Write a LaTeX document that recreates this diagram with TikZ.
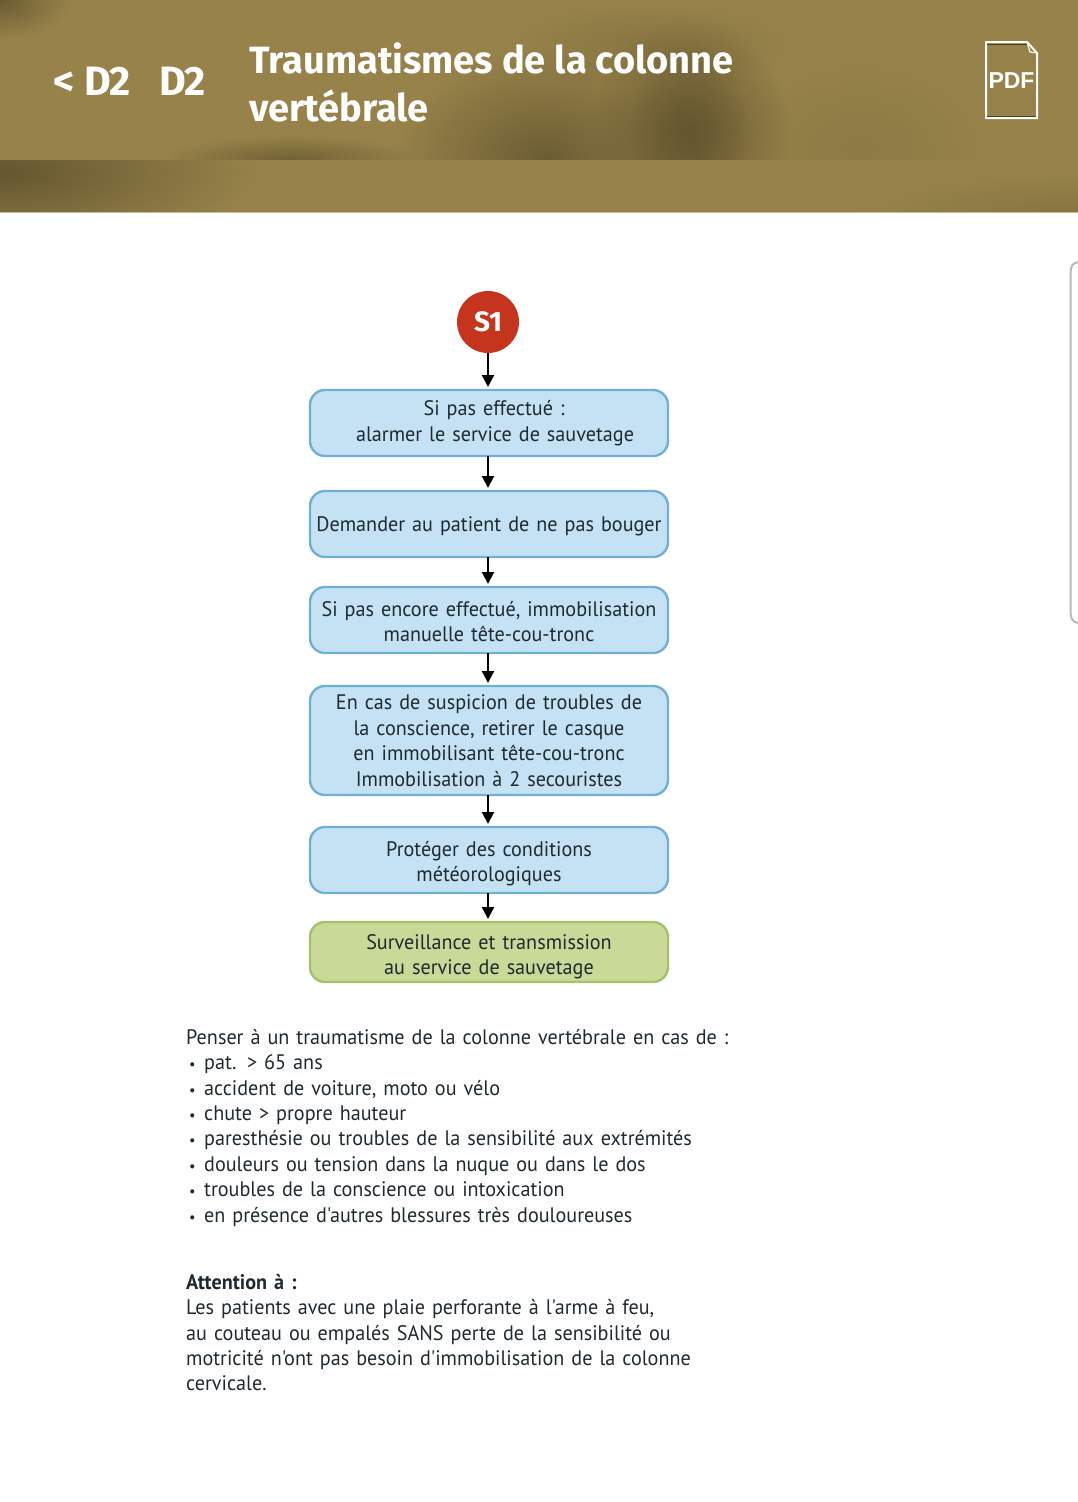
\documentclass[tikz,border=0pt]{standalone}
\usepackage{fontspec}
\setmainfont{PT Sans}[Ligatures=TeXOff,WordSpace=0.72,FakeStretch=0.96]
\newfontfamily\titlefont{Fira Sans}
\newfontfamily\pdffont{Liberation Sans}
\usetikzlibrary{arrows.meta,fadings,calc}
\definecolor{bandbase}{HTML}{97834A}
\definecolor{banddark}{HTML}{655630}
\definecolor{boxfill}{HTML}{C5E2F5}
\definecolor{boxline}{HTML}{6FB0D4}
\definecolor{endfill}{HTML}{C8D998}
\definecolor{endline}{HTML}{A5C26A}
\definecolor{inktext}{HTML}{1F2A30}
\definecolor{redstart}{HTML}{C5341C}
\tikzfading[name=softblob,inner color=transparent!0,outer color=transparent!100]
\newcommand\downby[1]{\rule{0pt}{#1}}
\newcommand\notebullet{\makebox[18pt][l]{\hspace{3pt}\fontsize{15}{15}\selectfont •}}
\tikzset{
  x=1pt,y=-1pt,
  stepbox/.style={draw=boxline,fill=boxfill,line width=2.4pt,rounded corners=15pt,
    minimum width=358pt,outer sep=0pt,inner xsep=1pt,inner ysep=0pt,text width=354pt,align=center,
    text=inktext,font=\fontsize{21}{25.5}\selectfont},
  endbox/.style={stepbox,draw=endline,fill=endfill},
  flow/.style={line width=2.2pt,black,-{Triangle[length=12pt,width=12pt]},shorten >=3pt},
  para/.style={anchor=north west,inner sep=0pt,text width=600pt,align=left,text=inktext,
    font=\fontsize{21}{25.4}\selectfont},
  blob/.style={fill=banddark,path fading=softblob},
  header/.style={text=white,anchor=west,inner sep=0pt,font=\titlefont\fontsize{38}{48}\selectfont\bfseries},
  crumbtext/.style={header,font=\titlefont\fontsize{41}{46}\selectfont\bfseries},
}
\begin{document}
\begin{tikzpicture}
\useasboundingbox (0,0) rectangle (1078,1502);
% header bands
\begin{scope}
\clip (0,0) rectangle (1078,160);
\fill[bandbase] (0,0) rectangle (1078,160);
\fill[blob,opacity=.9] (-70,-40) rectangle (70,40);
\fill[blob,opacity=.3] (500,0) rectangle (800,90);
\fill[blob,opacity=.95] (590,20) rectangle (790,240);
\fill[blob,opacity=.65] (630,40) rectangle (750,240);
\fill[blob,opacity=.85] (390,50) rectangle (700,270);
\fill[blob,opacity=.75] (160,135) rectangle (420,185);
\fill[blob,opacity=.2] (720,50) rectangle (1000,250);
\end{scope}
\begin{scope}
\clip (0,160) rectangle (1078,212);
\fill[bandbase] (0,160) rectangle (1078,212);
\fill[blob,opacity=1] (-260,90) rectangle (260,255);
\fill[blob,opacity=.35] (850,170) rectangle (1300,270);
\end{scope}
\draw[line width=1pt,color=bandbase!55!white] (0,212.5) -- (1078,212.5);
% header texts
\node[crumbtext] (back) at (53,81) {< D2};
\node[crumbtext] (crumb) at (159,81) {D2};
\node[header] (title1) at (249,58) {Traumatismes de la colonne};
\node[header] (title2) at (249,106) {vertébrale};
% pdf icon
\draw[white,line width=2pt,line join=miter] (986,42) -- (1027,42) -- (1037,53) -- (1037,118) -- (986,118) -- cycle;
\draw[white,line width=1.2pt] (1027,42) -- (1030,52) -- (1037,53);
\draw[banddark!70!black,line width=1pt] (987,44) -- (1027,44);
\draw[banddark!70!black,line width=1pt] (987,116) -- (1036,116);
\node[text=white,inner sep=0pt,font=\pdffont\fontsize{23}{23}\selectfont\bfseries] (pdf) at (1011.5,81) {PDF};
% scroll edge
\draw[black!28,line width=2pt] (1078,262) .. controls (1072,263) and (1070.5,267) .. (1070.5,274) -- (1070.5,610) .. controls (1070.5,618) and (1072,622) .. (1078,623);
% flow
\node[circle,fill=redstart,minimum size=62pt,inner sep=0pt,outer sep=0pt,text=white,
  font=\titlefont\fontsize{28}{28}\selectfont\bfseries] (s1) at (488,322) {S1};
\node[stepbox,minimum height=66pt] (b1) at (489,423) {\hspace*{10pt}Si pas effectué :\\\hspace*{12pt}alarmer le service de sauvetage};
\node[stepbox,minimum height=66pt] (b2) at (489,524) {\downby{20pt}Demander au patient de ne pas bouger};
\node[stepbox,minimum height=66pt] (b3) at (489,620) {\downby{18pt}Si pas encore effectué, immobilisation\\manuelle tête-cou-tronc};
\node[stepbox,minimum height=109pt] (b4) at (489,740.5) {En cas de suspicion de troubles de\\la conscience, retirer le casque\\en immobilisant tête-cou-tronc\\Immobilisation à 2 secouristes};
\node[stepbox,minimum height=66pt] (b5) at (489,860) {\downby{22pt}Protéger des conditions\\météorologiques};
\node[endbox,minimum height=60pt] (b6) at (489,952) {\downby{24pt}Surveillance et transmission\\au service de sauvetage};
\draw[flow] (s1.south) -- (s1.south |- b1.north);
\draw[flow] (s1 |- b1.south) -- (s1 |- b2.north);
\draw[flow] (s1 |- b2.south) -- (s1 |- b3.north);
\draw[flow] (s1 |- b3.south) -- (s1 |- b4.north);
\draw[flow] (s1 |- b4.south) -- (s1 |- b5.north);
\draw[flow] (s1 |- b5.south) -- (s1 |- b6.north);
% notes
\node[para] (notes) at (186,1029) {Penser à un traumatisme de la colonne vertébrale en cas de :\\
\notebullet pat. > 65 ans\\
\notebullet accident de voiture, moto ou vélo\\
\notebullet chute > propre hauteur\\
\notebullet paresthésie ou troubles de la sensibilité aux extrémités\\
\notebullet douleurs ou tension dans la nuque ou dans le dos\\
\notebullet troubles de la conscience ou intoxication\\
\notebullet en présence d'autres blessures très douloureuses};
\node[para] (warn) at (186,1274) {{\bfseries Attention à :}\\
Les patients avec une plaie perforante à l'arme à feu,\\
au couteau ou empalés SANS perte de la sensibilité ou\\
motricité n'ont pas besoin d'immobilisation de la colonne\\
cervicale.};
\end{tikzpicture}
\end{document}
